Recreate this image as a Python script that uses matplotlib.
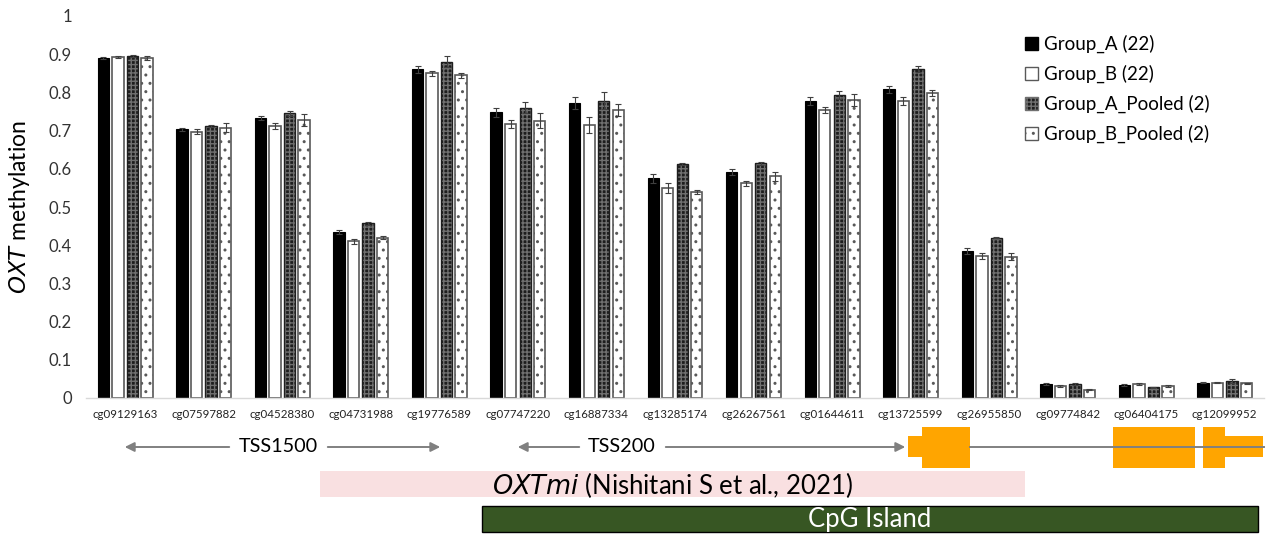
import numpy as np
import matplotlib
matplotlib.use("Agg")
import matplotlib.pyplot as plt
from matplotlib.patches import Patch, Rectangle

plt.rcParams['font.family'] = ['Lato', 'DejaVu Sans']

probes = ["cg09129163", "cg07597882", "cg04528380", "cg04731988", "cg19776589",
          "cg07747220", "cg16887334", "cg13285174", "cg26267561", "cg01644611",
          "cg13725599", "cg26955850", "cg09774842", "cg06404175", "cg12099952"]

group_a = [0.890, 0.703, 0.733, 0.435, 0.860, 0.748, 0.772, 0.575, 0.592, 0.778,
           0.808, 0.385, 0.036, 0.034, 0.040]
group_b = [0.892, 0.697, 0.712, 0.410, 0.850, 0.718, 0.715, 0.550, 0.562, 0.753,
           0.777, 0.372, 0.031, 0.036, 0.040]
group_a_pooled = [0.895, 0.712, 0.745, 0.457, 0.880, 0.760, 0.778, 0.612, 0.614, 0.793,
                  0.862, 0.420, 0.037, 0.028, 0.044]
group_b_pooled = [0.890, 0.708, 0.728, 0.420, 0.845, 0.726, 0.753, 0.540, 0.580, 0.780,
                  0.798, 0.370, 0.022, 0.031, 0.038]

err_a = [0.002, 0.005, 0.005, 0.005, 0.008, 0.012, 0.015, 0.011, 0.007, 0.010,
         0.010, 0.008, 0.002, 0.002, 0.002]
err_b = [0.002, 0.006, 0.008, 0.006, 0.007, 0.011, 0.020, 0.014, 0.007, 0.008,
         0.010, 0.007, 0.002, 0.002, 0.002]
err_ap = [0.002, 0.002, 0.006, 0.005, 0.014, 0.014, 0.022, 0.002, 0.005, 0.010,
          0.008, 0.002, 0.003, 0.002, 0.005]
err_bp = [0.006, 0.012, 0.016, 0.005, 0.006, 0.020, 0.016, 0.005, 0.011, 0.016,
          0.008, 0.009, 0.002, 0.002, 0.002]

labels = ["Group_A (22)", "Group_B (22)", "Group_A_Pooled (2)", "Group_B_Pooled (2)"]

W, H = 1266, 536
fig = plt.figure(figsize=(W / 100, H / 100), dpi=100)
ax = fig.add_axes([86 / W, (H - 398) / H, (1264 - 86) / W, (398 - 16) / H])

x = np.arange(len(probes))
bw = 0.145
step = 0.185
ekw = dict(ecolor='#404040', elinewidth=0.8, capsize=2.5, capthick=0.8)
hatch_dark = '#707070'

ax.bar(x - 1.5 * step, group_a, bw, color='black', edgecolor='black', lw=0.8,
       yerr=err_a, error_kw=ekw)
ax.bar(x - 0.5 * step, group_b, bw, color='white', edgecolor='#595959', lw=1.2,
       yerr=err_b, error_kw=ekw)
ax.bar(x + 0.5 * step, group_a_pooled, bw, color='#1e1e1e', edgecolor=hatch_dark,
       hatch='++++', lw=0)
ax.bar(x + 0.5 * step, group_a_pooled, bw, fill=False, edgecolor='#1e1e1e', lw=1.0,
       yerr=err_ap, error_kw=ekw)
ax.bar(x + 1.5 * step, group_b_pooled, bw, color='white', edgecolor='#595959',
       hatch='..', lw=1.2, yerr=err_bp, error_kw=ekw)

ax.set_xlim(-0.5, len(probes) - 0.5)
ax.set_ylim(0, 1)
ax.set_yticks(np.arange(0, 1.01, 0.1))
ax.set_yticklabels(["0", "0.1", "0.2", "0.3", "0.4", "0.5", "0.6", "0.7", "0.8", "0.9", "1"],
                   fontsize=12, color='#333333')
ax.set_xticks(x)
ax.set_xticklabels(probes, fontsize=8.3, color='#222222')
ax.tick_params(axis='both', length=0, pad=8)
ax.tick_params(axis='y', pad=10)
for s in ['top', 'right', 'left']:
    ax.spines[s].set_visible(False)
ax.spines['bottom'].set_color('#d9d9d9')
ax.spines['bottom'].set_linewidth(1.0)
ax.set_ylabel(r"$\it{OXT}$ methylation", fontsize=16.5, labelpad=12)

handles = [Patch(facecolor='black', edgecolor='black'),
           Patch(facecolor='white', edgecolor='#595959'),
           Patch(facecolor='#1e1e1e', edgecolor=hatch_dark, hatch='++++'),
           Patch(facecolor='white', edgecolor='#595959', hatch='..')]
ax.legend(handles, labels, loc='upper left', bbox_to_anchor=(0.783, 0.995),
          frameon=False, fontsize=13.5, handlelength=0.7, handleheight=0.7,
          handletextpad=0.3, labelspacing=0.62)

# annotation track below the axis, in pixel coordinates
ov = fig.add_axes([0, 0, 1, 1], zorder=-1)
ov.set_xlim(0, W)
ov.set_ylim(H, 0)
ov.axis('off')

arrow_kw = dict(arrowstyle='-|>', color='#808080', lw=1.4, mutation_scale=14)
ov.annotate('', xy=(122, 447), xytext=(232, 447), arrowprops=arrow_kw)
ov.annotate('', xy=(443, 447), xytext=(325, 447), arrowprops=arrow_kw)
ov.text(278, 447, "TSS1500", ha='center', va='center', fontsize=14.3)
ov.annotate('', xy=(515, 447), xytext=(582, 447), arrowprops=arrow_kw)
ov.annotate('', xy=(908, 447), xytext=(663, 447), arrowprops=arrow_kw)
ov.text(622, 447, "TSS200", ha='center', va='center', fontsize=14.3)

ov.plot([970, 1264], [447, 447], color='#808080', lw=1.4)
orange = '#FFA500'
for (x0, x1, y0, y1) in [(908, 922, 436, 457), (922, 970, 427, 468),
                         (1113, 1195, 427, 468), (1203, 1225, 427, 468),
                         (1225, 1263, 436, 457)]:
    ov.add_patch(Rectangle((x0, y0), x1 - x0, y1 - y0, facecolor=orange, edgecolor='none'))

ov.add_patch(Rectangle((320, 471), 705, 26, facecolor='#f9e0e1', edgecolor='none'))
ov.text(672, 485, r"$\it{OXTmi}$ (Nishitani S et al., 2021)", ha='center', va='center',
        fontsize=18.5)

ov.add_patch(Rectangle((482, 506), 776, 26, facecolor='#375623', edgecolor='black', lw=1))
ov.text(870, 519, "CpG Island", ha='center', va='center', fontsize=18.5, color='white')

fig.savefig("out.png", dpi=100)
